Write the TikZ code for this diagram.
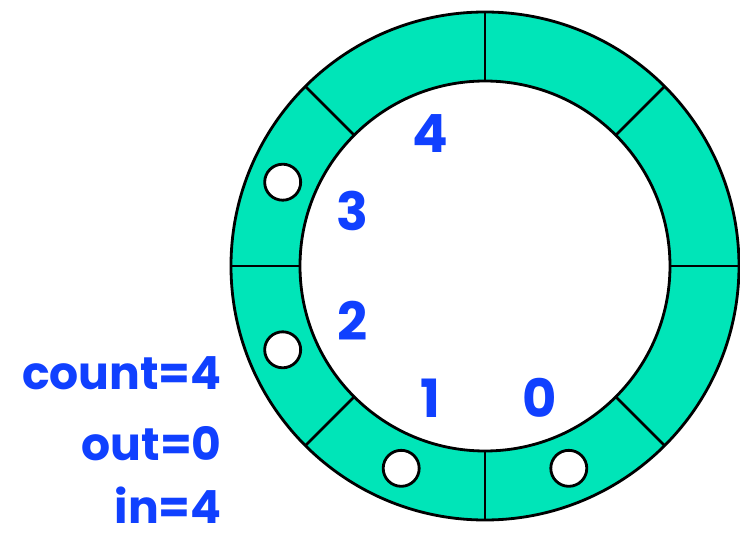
\documentclass[tikz,border=0pt]{standalone}
\usepackage{fontspec}
\setmainfont{Poppins}
\usepackage{tikz}
\usetikzlibrary{positioning}
\definecolor{ringteal}{HTML}{00E5B8}
\definecolor{idxblue}{HTML}{1040FF}
\tikzset{
  ringline/.style = {draw=black, line width=1.6pt},
  slotdot/.style  = {circle, draw=black, line width=1.6pt, fill=white,
                     minimum size=0.72cm, inner sep=0pt},
  idxlbl/.style   = {font=\fontsize{30}{30}\selectfont\bfseries\color{idxblue}},
  varlbl/.style   = {font=\fontsize{26}{26}\selectfont\bfseries\color{idxblue},
                     anchor=base east, inner sep=0pt},
}
\begin{document}
\begin{tikzpicture}
\useasboundingbox (-9.7,-5.44) rectangle (5.1,5.32);
% ring buffer
\fill[ringteal, even odd rule] (0,0) circle (5.08) (0,0) circle (3.7);
\draw[ringline] (0,0) circle (5.08);
\draw[ringline] (0,0) circle (3.7);
\draw[ringline] (0:3.7)   -- (0:5.08);
\draw[ringline] (45:3.7)  -- (45:5.08);
\draw[ringline] (90:3.7)  -- (90:5.08);
\draw[ringline] (135:3.7) -- (135:5.08);
\draw[ringline] (180:3.7) -- (180:5.08);
\draw[ringline] (225:3.7) -- (225:5.08);
\draw[ringline] (270:3.7) -- (270:5.08);
\draw[ringline] (315:3.7) -- (315:5.08);

% filled slots
\node[slotdot] (slot0) at (292.5:4.38) {};
\node[slotdot] (slot1) at (247.5:4.38) {};
\node[slotdot] (slot2) at (202.5:4.38) {};
\node[slotdot] (slot3) at (157.5:4.38) {};

% slot indices
\node[idxlbl] (idx0) at (292.5:2.86) {0};
\node[idxlbl] (idx1) at (247.5:2.86) {1};
\node[idxlbl] (idx2) at (202.5:2.86) {2};
\node[idxlbl] (idx3) at (157.5:2.86) {3};
\node[idxlbl] (idx4) at (112.5:2.86) {4};

% counters
\node[varlbl] (lcount) at (-5.26,-2.46) {count=4};
\node[varlbl] (lout)   at (-5.26,-3.88) {out=0};
\node[varlbl] (lin)    at (-5.26,-5.14) {in=4};
\end{tikzpicture}
\end{document}
